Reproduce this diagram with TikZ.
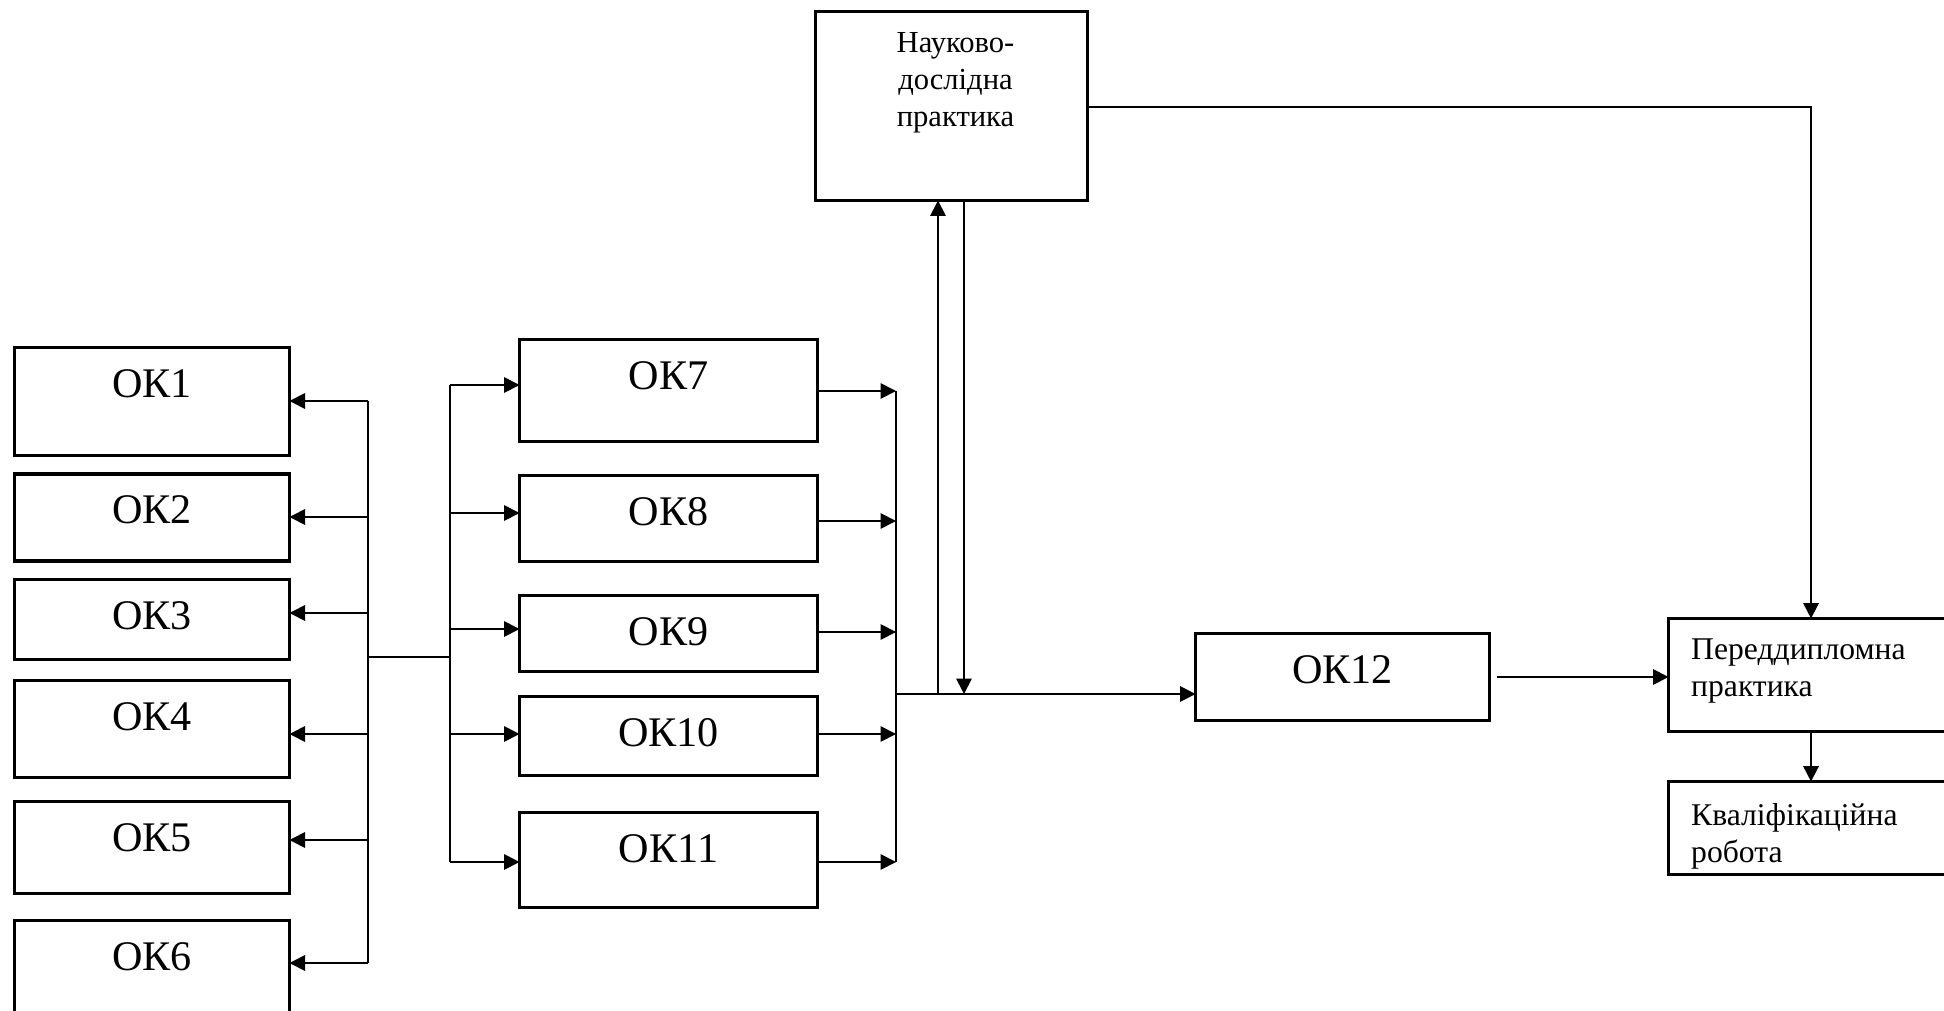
\documentclass[tikz,border=0pt]{standalone}
\usepackage{fontspec}
\setmainfont{Liberation Serif}
\usetikzlibrary{arrows.meta, positioning}

\begin{document}
\begin{tikzpicture}[
  >={Triangle[length=1.55mm, width=1.55mm]},
  okbox/.style={draw, rectangle, line width=0.95pt, inner sep=0pt, outer sep=0pt, text height=5mm, text depth=#1, font=\fontsize{12}{14}\selectfont},
  okbox/.default=4mm,
  leftcol/.style={minimum width=27.5mm},
  midcol/.style={minimum width=29.8mm},
  pbox/.style={draw, rectangle, line width=0.95pt, inner sep=0pt, outer sep=0pt},
  ntext/.style={align=center, inner sep=0pt, font=\fontsize{8.7}{10.6}\selectfont},
  rtext/.style={align=left, inner sep=0pt, font=\fontsize{9}{10.5}\selectfont},
  flow/.style={->, line width=0.5pt},
  bus/.style={line width=0.5pt}
]
\useasboundingbox (0,0) rectangle (19.44,-10.11);

% left column
\node[okbox=5.8mm, leftcol, anchor=north west] (OK1) at (0.145,-3.475) {ОК1};
\node[okbox=3.7mm, leftcol] (OK2) [below=1.85mm of OK1] {ОК2};
\node[okbox=3.0mm, leftcol] (OK3) [below=1.85mm of OK2] {ОК3};
\node[okbox=4.7mm, leftcol] (OK4) [below=2.1mm of OK3] {ОК4};
\node[okbox=4.2mm, leftcol] (OK5) [below=2.4mm of OK4] {ОК5};
\node[okbox=7.0mm, leftcol] (OK6) [below=2.7mm of OK5] {ОК6};

% middle column
\node[okbox=5.2mm, midcol, anchor=north west] (OK7) at (5.195,-3.395) {ОК7};
\node[okbox=3.6mm, midcol] (OK8) [below=3.4mm of OK7] {ОК8};
\node[okbox=2.6mm, midcol] (OK9) [below=3.4mm of OK8] {ОК9};
\node[okbox=2.9mm, midcol] (OK10) [below=2.5mm of OK9] {ОК10};
\node[okbox=4.5mm, midcol] (OK11) [below=3.7mm of OK10] {ОК11};

\node[okbox=3.7mm, minimum width=29.4mm, anchor=north west] (OK12) at (11.955,-6.335) {ОК12};

% practice and final work
\node[pbox, minimum width=27.2mm, minimum height=18.9mm, anchor=north west] (NDP) at (8.155,-0.115) {};
\node[ntext, xshift=0.4mm] (NDPtext) [below=2.0mm of NDP.north] {Науково-\\дослідна\\практика};

\node[pbox, minimum width=33mm, minimum height=11.3mm, anchor=north west] (PDP) at (16.685,-6.185) {};
\node[rtext] (PDPtext) [below right=1.95mm and 2.2mm of PDP.north west] {Переддипломна\\практика};
\node[pbox, minimum width=33mm, minimum height=9.3mm] (KR) [below=5mm of PDP] {};
\node[rtext] (KRtext) [below right=2.15mm and 2.2mm of KR.north west] {Кваліфікаційна\\робота};

% bus points
\coordinate (L1) at (3.68,-4.01);
\coordinate (L2) at (3.68,-5.17);
\coordinate (L3) at (3.68,-6.13);
\coordinate (L4) at (3.68,-7.34);
\coordinate (L5) at (3.68,-8.40);
\coordinate (L6) at (3.68,-9.63);
\coordinate (hubL) at (3.68,-6.57);
\coordinate (hubR) at (4.50,-6.57);
\coordinate (R7) at (4.50,-3.85);
\coordinate (R8) at (4.50,-5.13);
\coordinate (R9) at (4.50,-6.29);
\coordinate (R10) at (4.50,-7.34);
\coordinate (R11) at (4.50,-8.62);
\coordinate (S7) at (8.96,-3.91);
\coordinate (S8) at (8.96,-5.21);
\coordinate (S9) at (8.96,-6.32);
\coordinate (S10) at (8.96,-7.34);
\coordinate (S11) at (8.96,-8.62);
\coordinate (hubS) at (8.96,-6.94);
\coordinate (up) at (9.38,-6.94);
\coordinate (dn) at (9.64,-6.94);
\coordinate (turn) at (18.11,-1.07);

% left fan-out
\draw[bus] (L1) -- (L6);
\draw[bus] (hubL) -- (hubR);
\draw[flow] (L1) -- (L1 -| OK1.east);
\draw[flow] (L2) -- (L2 -| OK2.east);
\draw[flow] (L3) -- (L3 -| OK3.east);
\draw[flow] (L4) -- (L4 -| OK4.east);
\draw[flow] (L5) -- (L5 -| OK5.east);
\draw[flow] (L6) -- (L6 -| OK6.east);

% middle fan-out
\draw[bus] (R7) -- (R11);
\draw[flow] (R7) -- (R7 -| OK7.west);
\draw[flow] (R8) -- (R8 -| OK8.west);
\draw[flow] (R9) -- (R9 -| OK9.west);
\draw[flow] (R10) -- (R10 -| OK10.west);
\draw[flow] (R11) -- (R11 -| OK11.west);

% middle outputs
\draw[flow] (S7 -| OK7.east) -- (S7);
\draw[flow] (S8 -| OK8.east) -- (S8);
\draw[flow] (S9 -| OK9.east) -- (S9);
\draw[flow] (S10 -| OK10.east) -- (S10);
\draw[flow] (S11 -| OK11.east) -- (S11);
\draw[bus] (S7) -- (S11);

% to OK12 and research practice
\draw[flow] (hubS) -- (hubS -| OK12.west);
\draw[flow] (up) -- (up |- NDP.south);
\draw[flow] (dn |- NDP.south) -- (dn);

% to pre-diploma practice
\draw[flow] (turn -| NDP.east) -- (turn) -- (turn |- PDP.north);
\draw[flow, shorten <=0.7mm] (OK12.east) -- (OK12.east -| PDP.west);
\draw[flow] (turn |- PDP.south) -- (turn |- KR.north);

\end{tikzpicture}
\end{document}
